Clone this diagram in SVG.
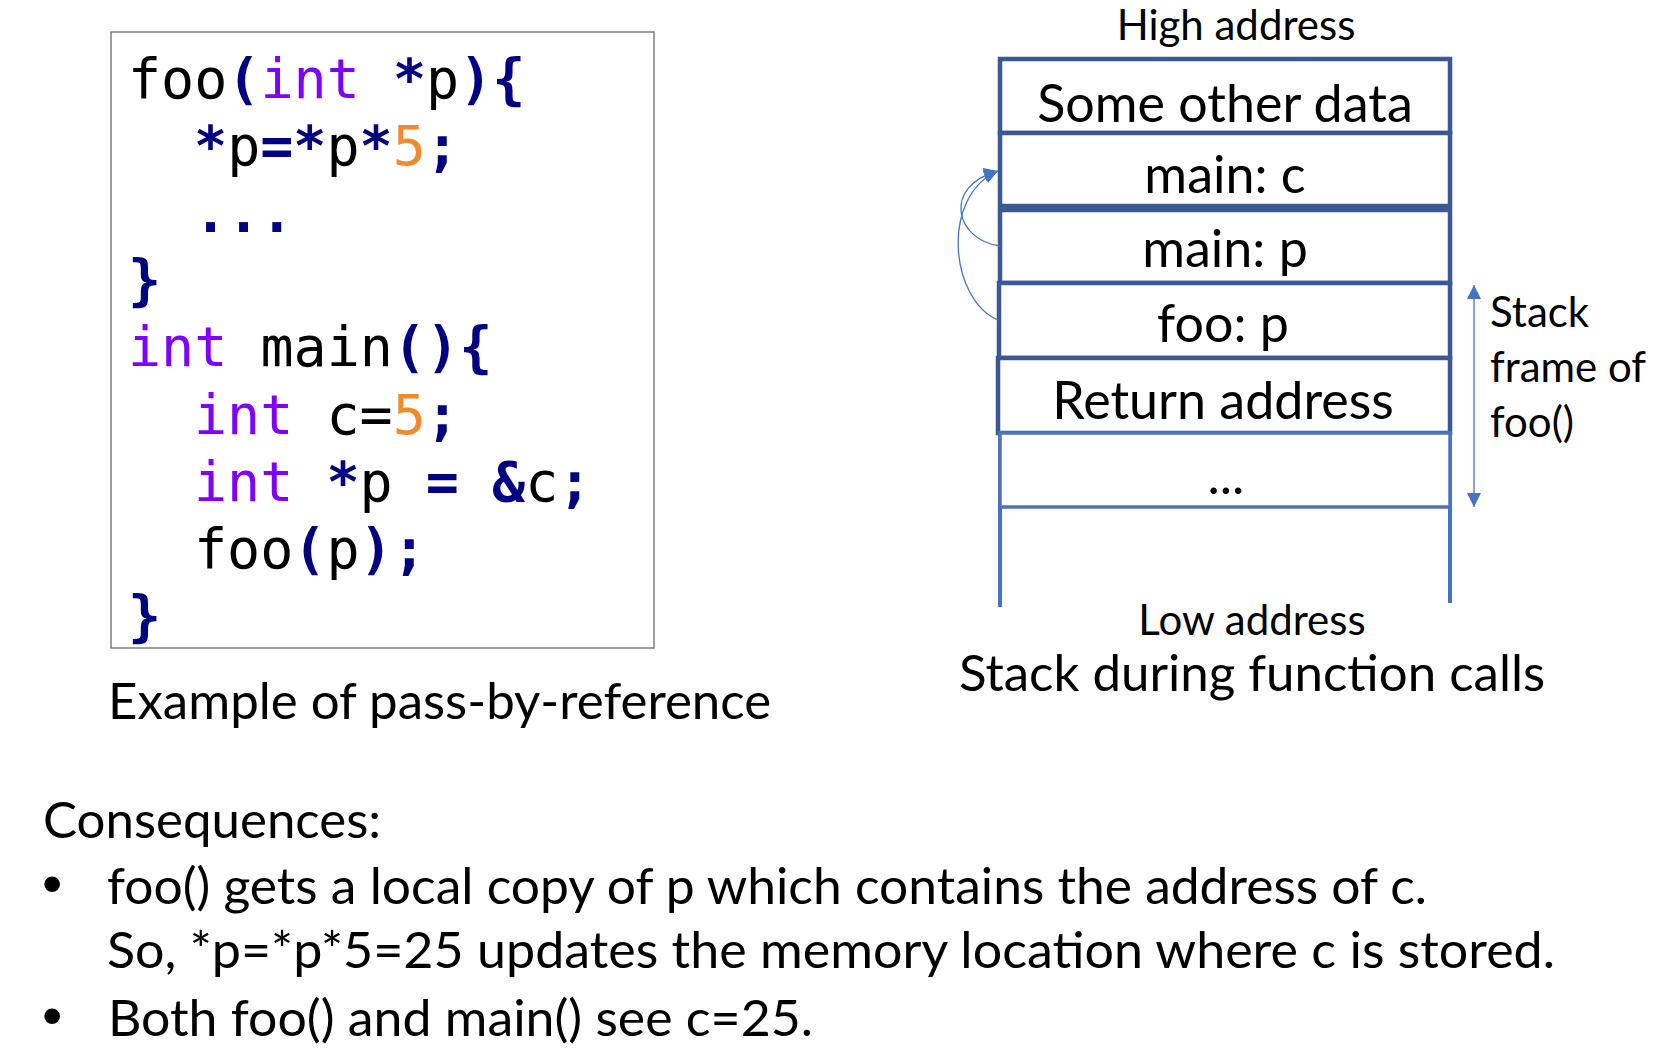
<svg xmlns="http://www.w3.org/2000/svg" width="1668" height="1050" viewBox="0 0 1668 1050">
<style>
.code{font-family:"DejaVu Sans Mono",monospace;font-size:55px;fill:#000}
.k{fill:#8000ff}
.o{fill:#000080;font-weight:bold}
.n{fill:#f08a2c}
.t{font-family:Lato,"Liberation Sans",sans-serif;font-size:51px;fill:#000}
.c{font-family:Lato,"Liberation Sans",sans-serif;font-size:52px;fill:#000}
.s{font-family:Lato,"Liberation Sans",sans-serif;font-size:42px;fill:#000}
.b{font-family:"Liberation Sans",sans-serif;font-size:58px;fill:#000}
.cell{fill:#fff;stroke:#3b5894;stroke-width:4.5}
.wall{stroke:#4472c4;stroke-width:4;fill:none}
.conn{stroke:#4472c4;stroke-width:1.3;fill:none}
</style>
<defs>
<marker id="ah" viewBox="0 0 10 10" refX="10" refY="5" markerWidth="14" markerHeight="14" markerUnits="userSpaceOnUse" orient="auto">
<path d="M0,0 L10,5 L0,10 z" fill="#4472c4"/>
</marker>
<marker id="ah2" viewBox="0 0 10 10" refX="10" refY="5" markerWidth="14" markerHeight="14" markerUnits="userSpaceOnUse" orient="auto-start-reverse">
<path d="M0,0 L10,5 L0,10 z" fill="#4472c4"/>
</marker>
</defs>
<rect width="1668" height="1050" fill="#fff"/>

<g id="code-box">
<rect x="111" y="32" width="543" height="616" fill="#fff" stroke="#7f7f7f" stroke-width="1.5"/>
<text class="code" xml:space="preserve" x="128" y="98">foo<tspan class="o">(</tspan><tspan class="k">int</tspan> <tspan class="o">*</tspan>p<tspan class="o">){</tspan></text>
<text class="code" xml:space="preserve" x="194" y="165"><tspan class="o">*</tspan>p<tspan class="o">=*</tspan>p<tspan class="o">*</tspan><tspan class="n">5</tspan><tspan class="o">;</tspan></text>
<text class="code" xml:space="preserve" x="194" y="232"><tspan class="o">...</tspan></text>
<text class="code" xml:space="preserve" x="128" y="299"><tspan class="o">}</tspan></text>
<text class="code" xml:space="preserve" x="128" y="366"><tspan class="k">int</tspan> main<tspan class="o">(){</tspan></text>
<text class="code" xml:space="preserve" x="194" y="434"><tspan class="k">int</tspan> c=<tspan class="n">5</tspan><tspan class="o">;</tspan></text>
<text class="code" xml:space="preserve" x="194" y="501"><tspan class="k">int</tspan> <tspan class="o">*</tspan>p <tspan class="o">=</tspan> <tspan class="o">&amp;</tspan>c<tspan class="o">;</tspan></text>
<text class="code" xml:space="preserve" x="194" y="568">foo<tspan class="o">(</tspan>p<tspan class="o">);</tspan></text>
<text class="code" xml:space="preserve" x="128" y="635"><tspan class="o">}</tspan></text>
</g>
<g id="code-caption">
<text class="t" x="108" y="719">Example of pass-by-reference</text>
</g>

<g id="stack">
<text class="s" x="1236" y="40" text-anchor="middle">High address</text>
<line class="wall" x1="1000" y1="58" x2="1000" y2="607"/>
<line class="wall" x1="1450" y1="58" x2="1450" y2="603"/>
<g id="cell-other"><rect class="cell" x="1000" y="59" width="450" height="74"/><text class="c" x="1225" y="122" text-anchor="middle">Some other data</text></g>
<g id="cell-main-c"><rect class="cell" x="1000" y="133" width="450" height="73"/><text class="c" x="1225" y="193" text-anchor="middle">main: c</text></g>
<g id="cell-main-p"><rect class="cell" x="1000" y="210" width="450" height="73"/><text class="c" x="1225" y="267" text-anchor="middle">main: p</text></g>
<g id="cell-foo-p"><rect class="cell" x="999" y="283" width="451" height="75"/><text class="c" x="1223" y="342" text-anchor="middle">foo: p</text></g>
<g id="cell-ret"><rect class="cell" x="998" y="358" width="452" height="75"/><text class="c" x="1223" y="419" text-anchor="middle">Return address</text></g>
<g id="cell-dots"><rect x="1000" y="433" width="450" height="74" fill="#fff" stroke="#4f72b8" stroke-width="3.5"/><text class="c" x="1226" y="494" text-anchor="middle">...</text></g>
<text class="s" x="1252" y="635" text-anchor="middle">Low address</text>
<text class="t" x="1252" y="691" text-anchor="middle">Stack during function calls</text>
</g>

<g id="frame-label">
<text class="s" x="1490" y="327">Stack</text>
<text class="s" x="1490" y="382">frame of</text>
<text class="s" x="1490" y="437">foo()</text>
</g>

<g id="connectors">
<path class="conn" d="M1000,246 C955,240 942,186 998,171" marker-end="url(#ah)"/>
<path class="conn" d="M998,320 C950,300 940,196 998,171" marker-end="url(#ah)"/>
<line class="conn" x1="1474" y1="285" x2="1474" y2="507" marker-start="url(#ah2)" marker-end="url(#ah2)"/>
</g>

<g id="consequences">
<text class="t" x="43" y="838" textLength="338" lengthAdjust="spacingAndGlyphs">Consequences:</text>
<text class="b" x="42" y="903">•</text>
<text class="t" x="107" y="904" textLength="1320" lengthAdjust="spacingAndGlyphs">foo() gets a local copy of p which contains the address of c.</text>
<text class="t" x="107" y="968" textLength="1448" lengthAdjust="spacingAndGlyphs">So, *p=*p*5=25 updates the memory location where c is stored.</text>
<text class="b" x="42" y="1035">•</text>
<text class="t" x="108" y="1036" textLength="705" lengthAdjust="spacingAndGlyphs">Both foo() and main() see c=25.</text>
</g>
</svg>
